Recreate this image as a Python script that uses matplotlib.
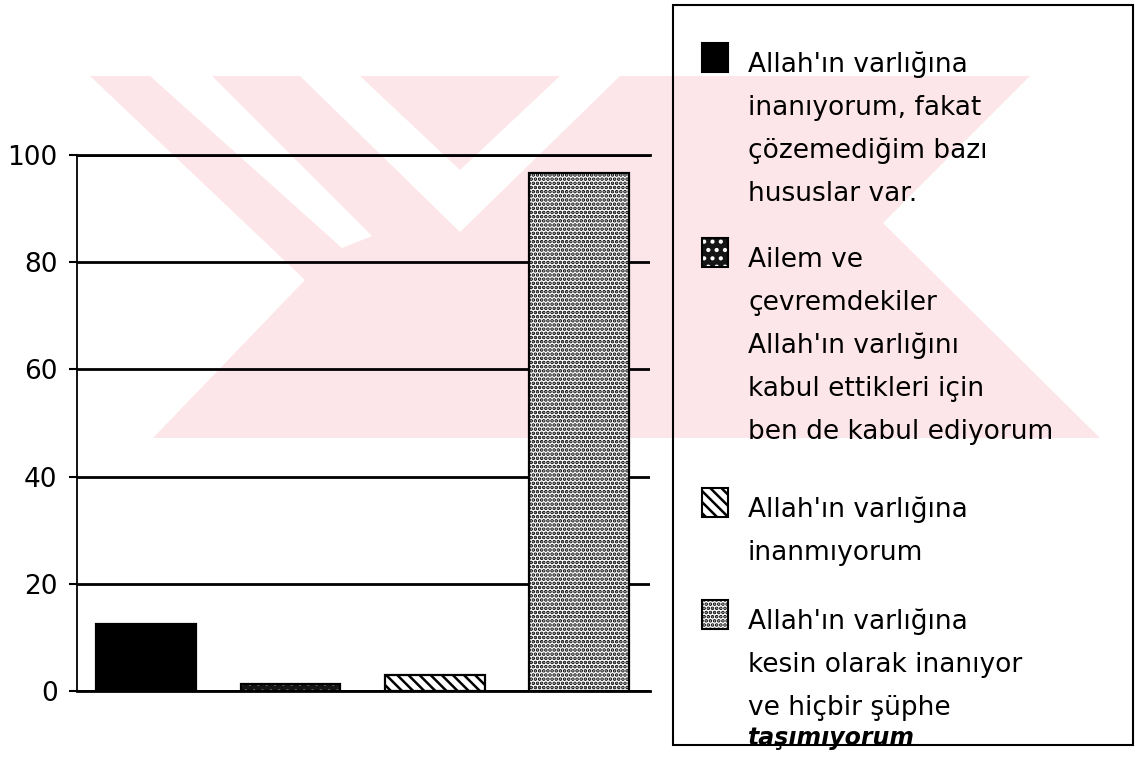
import matplotlib.pyplot as plt
from matplotlib.patches import Polygon, Rectangle

plt.rcParams['font.family'] = ['DejaVu Sans']
plt.rcParams['hatch.linewidth'] = 1.8

# ---- data ----
values = [12.5, 1.3, 3.0, 96.6]
y_ticks = [0, 20, 40, 60, 80, 100]
legend_lines = [
    ["Allah'ın varlığına", "inanıyorum, fakat", "çözemediğim bazı", "hususlar var."],
    ["Ailem ve", "çevremdekiler", "Allah'ın varlığını", "kabul ettikleri için",
     "ben de kabul ediyorum"],
    ["Allah'ın varlığına", "inanmıyorum"],
    ["Allah'ın varlığına", "kesin olarak inanıyor", "ve hiçbir şüphe"],
]
handwritten = "taşımıyorum"

# fill styles: face colour, hatch colour, hatch
face_cols = ['black', '#151515', 'white', 'white']
hatch_cols = ['black', 'white', 'black', 'black']
hatches = [None, '..', '\\\\\\', '....']

W, H = 1140, 759
fig = plt.figure(figsize=(W / 100, H / 100), dpi=100)


def fx(x):
    return x / W


def fy(y):
    return 1 - y / H


def poly(pts, color, z):
    fig.patches.append(Polygon([(fx(x), fy(y)) for x, y in pts], closed=True,
                               transform=fig.transFigure, facecolor=color,
                               edgecolor='none', zorder=z))


# faint scan watermark behind the chart
pink = '#fde6e9'
poly([(90, 76), (1030, 76), (883, 223), (1100, 438), (153, 438), (305, 280)], pink, -3)
poly([(150, 76), (212, 76), (372, 236), (342, 248)], 'white', -2)
poly([(300, 76), (360, 76), (460, 170), (560, 76), (620, 76), (460, 232)], 'white', -2)

# ---- bar chart ----
ax = fig.add_axes([fx(77), fy(691), (650 - 77) / W, (691 - 155) / H])
ax.set_facecolor('none')
x = range(len(values))
for i in x:
    ax.bar(i, values[i], width=0.69, color=face_cols[i], edgecolor=hatch_cols[i],
           hatch=hatches[i], linewidth=0, zorder=2)
ax.bar(x, values, width=0.69, fill=False, edgecolor='black', linewidth=1.6, zorder=3)

ax.set_xlim(-0.48, 3.49)
ax.set_ylim(0, 100)
ax.set_yticks(y_ticks)
ax.set_xticks([])
ax.set_axisbelow(True)
ax.yaxis.grid(True, color='black', linewidth=2)
ax.spines['right'].set_visible(False)
ax.spines['top'].set_linewidth(2)
ax.spines['left'].set_linewidth(1.3)
ax.spines['bottom'].set_linewidth(2)
ax.tick_params(axis='y', direction='out', length=6, width=1.5, pad=8, labelsize=19)

# ---- legend drawn as a plain box ----
fig.patches.append(Rectangle((fx(673), fy(745)), (1133 - 673) / W, (745 - 5) / H,
                             transform=fig.transFigure, fill=False,
                             edgecolor='black', linewidth=1.5))
first_baselines = [72, 267, 517, 629]
line_gap = 43
for i, lines in enumerate(legend_lines):
    yb = first_baselines[i]
    fig.patches.append(Rectangle((fx(702), fy(yb)), 26 / W, 29 / H,
                                 transform=fig.transFigure, facecolor=face_cols[i],
                                 edgecolor=hatch_cols[i], hatch=hatches[i],
                                 linewidth=0))
    fig.patches.append(Rectangle((fx(702), fy(yb)), 26 / W, 29 / H,
                                 transform=fig.transFigure, fill=False,
                                 edgecolor='black', linewidth=1.5))
    for j, line in enumerate(lines):
        fig.text(fx(748), fy(yb + j * line_gap), line, fontsize=19, va='baseline')
fig.text(fx(748), fy(745), handwritten, fontsize=17, style='italic',
         weight='bold', va='baseline')

fig.savefig('out.png', dpi=100)
